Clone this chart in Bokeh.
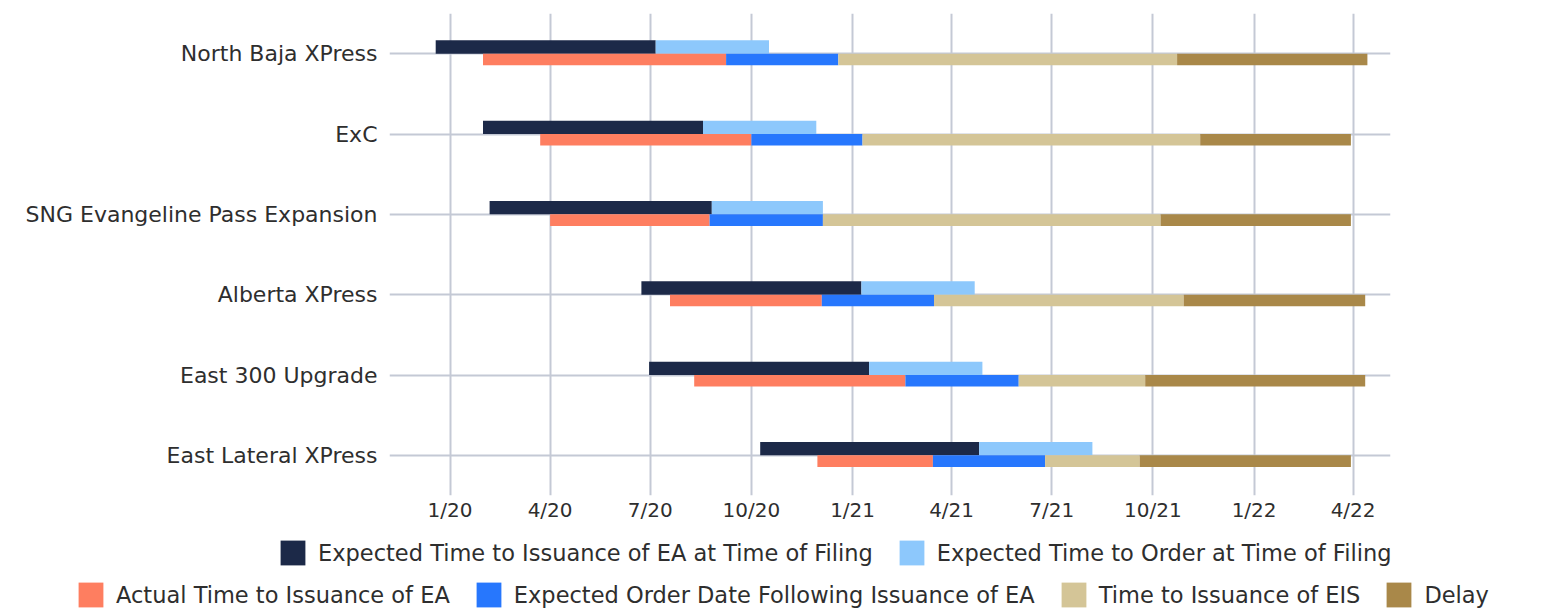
import pandas as pd
from bokeh.plotting import figure
from bokeh.layouts import column
from bokeh.models import (ColumnDataSource, FactorRange, Range1d, FixedTicker,
                          Legend, LegendItem)
from bokeh.transform import dodge
from bokeh.embed import file_html
from bokeh.resources import INLINE

# ---------------- data ----------------
projects = ["North Baja XPress", "ExC", "SNG Evangeline Pass Expansion",
            "Alberta XPress", "East 300 Upgrade", "East Lateral XPress"]

filing_date = ["2019-12-19", "2020-01-31", "2020-02-06", "2020-06-23", "2020-06-30", "2020-10-09"]
expected_ea = ["2020-07-06", "2020-08-18", "2020-08-26", "2021-01-09", "2021-01-16", "2021-04-26"]
expected_order = ["2020-10-17", "2020-11-29", "2020-12-05", "2021-04-22", "2021-04-29", "2021-08-07"]

ea_start = ["2020-01-31", "2020-03-23", "2020-04-01", "2020-07-19", "2020-08-10", "2020-11-30"]
actual_ea = ["2020-09-08", "2020-10-01", "2020-08-24", "2020-12-04", "2021-02-18", "2021-03-15"]
order_after_ea = ["2020-12-19", "2021-01-10", "2020-12-05", "2021-03-16", "2021-06-01", "2021-06-25"]
eis_issued = ["2021-10-23", "2021-11-13", "2021-10-08", "2021-10-29", "2021-09-24", "2021-09-19"]
delay_end = ["2022-04-14", "2022-03-30", "2022-03-30", "2022-04-12", "2022-04-12", "2022-03-30"]

tick_dates = ["2020-01-01", "2020-04-01", "2020-07-01", "2020-10-01", "2021-01-01",
              "2021-04-01", "2021-07-01", "2021-10-01", "2022-01-01", "2022-04-01"]
tick_labels = ["1/20", "4/20", "7/20", "10/20", "1/21", "4/21", "7/21", "10/21", "1/22", "4/22"]

series = [
    # label, start, end, row, color
    ("Expected Time to Issuance of EA at Time of Filing", filing_date, expected_ea, "upper", "#1c2948"),
    ("Expected Time to Order at Time of Filing", expected_ea, expected_order, "upper", "#8dc8fc"),
    ("Actual Time to Issuance of EA", ea_start, actual_ea, "lower", "#fe7e60"),
    ("Expected Order Date Following Issuance of EA", actual_ea, order_after_ea, "lower", "#2777fd"),
    ("Time to Issuance of EIS", order_after_ea, eis_issued, "lower", "#d4c597"),
    ("Delay", eis_issued, delay_end, "lower", "#a98849"),
]

FONT = "DejaVu Sans"
TEXT = "#2e2e2e"
GRID = "#c4c9d5"

p = figure(width=1544, height=525, output_backend="svg", toolbar_location=None,
           y_range=FactorRange(factors=list(reversed(projects)), range_padding=0),
           x_range=Range1d(pd.Timestamp("2019-11-07"), pd.Timestamp("2022-05-05")),
           x_axis_type="datetime",
           min_border_left=389, min_border_right=154, min_border_top=13, min_border_bottom=30)
p.outline_line_color = None
p.background_fill_color = "white"

# legend-only figure below the chart (its x range lies far from the data,
# so the bars themselves stay out of view and only feed the legend swatches)
pl = figure(width=1544, height=85, output_backend="svg", toolbar_location=None,
            x_range=Range1d(0, 1), y_range=p.y_range,
            x_axis_location=None, y_axis_location=None,
            min_border_left=0, min_border_right=0, min_border_top=0, min_border_bottom=0)
pl.outline_line_color = None
pl.xgrid.visible = False
pl.ygrid.visible = False

legend_renderers = {}
for label, start, end, row, color in series:
    src = ColumnDataSource(dict(project=projects,
                                left=pd.to_datetime(start),
                                right=pd.to_datetime(end)))
    if row == "upper":
        y = dodge("project", 0.083, range=p.y_range)
        h = 0.166
    else:
        y = dodge("project", -0.072, range=p.y_range)
        h = 0.145
    p.hbar(y=y, left="left", right="right", height=h, source=src,
           fill_color=color, line_color=None)
    lr = pl.hbar(y="project", left="left", right="right", height=h, source=src,
                 fill_color=color, line_color=None)
    legend_renderers[label] = lr

# x axis
tick_ms = [int(pd.Timestamp(d).value // 10**6) for d in tick_dates]
p.xaxis.ticker = FixedTicker(ticks=tick_ms)
p.xaxis.major_label_overrides = {t: l for t, l in zip(tick_ms, tick_labels)}
p.xaxis.axis_line_color = None
p.xaxis.major_tick_line_color = None
p.xaxis.minor_tick_line_color = None
p.xaxis.major_label_standoff = -4
p.xaxis.major_label_text_font = FONT
p.xaxis.major_label_text_font_size = "20px"
p.xaxis.major_label_text_color = TEXT

# y axis
p.yaxis.axis_line_color = None
p.yaxis.major_tick_line_color = None
p.yaxis.minor_tick_line_color = None
p.yaxis.major_label_standoff = 6
p.yaxis.major_label_text_font = FONT
p.yaxis.major_label_text_font_size = "22px"
p.yaxis.major_label_text_color = TEXT

# grids
p.xgrid.ticker = FixedTicker(ticks=tick_ms)
p.xgrid.grid_line_color = GRID
p.xgrid.grid_line_width = 2
p.ygrid.grid_line_color = GRID
p.ygrid.grid_line_width = 2

def make_legend(labels, loc):
    return Legend(items=[LegendItem(label=l, renderers=[legend_renderers[l]]) for l in labels],
                  orientation="horizontal", location=loc,
                  glyph_width=31, glyph_height=31, label_standoff=10, spacing=23,
                  padding=0, margin=0, border_line_color=None,
                  background_fill_alpha=0,
                  label_text_font=FONT, label_text_font_size="22.5px",
                  label_text_color=TEXT)

pl.add_layout(make_legend([s[0] for s in series[:2]], (277, 42)), "center")
pl.add_layout(make_legend([s[0] for s in series[2:]], (75, 0)), "center")

open("out.html", "w").write(file_html(column(p, column(pl), spacing=0), INLINE))
